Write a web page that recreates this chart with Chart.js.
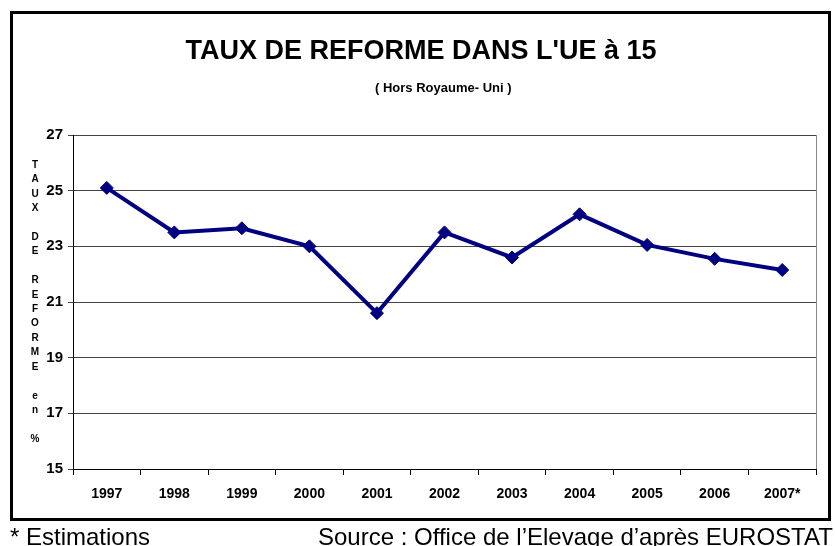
<!DOCTYPE html>
<html>
<head>
    <title>Taux de reforme UE 15</title>
    <script src="https://cdn.jsdelivr.net/npm/chart.js"></script>
    <style>
        body {
            margin: 0;
            background: white;
            font-family: 'Liberation Sans', Arial, sans-serif;
        }
        .page {
            position: relative;
            width: 835px;
            height: 546px;
            overflow: hidden;
        }
        .box {
            position: absolute;
            left: 10px;
            top: 11px;
            width: 815px;
            height: 504px;
            border: 3px solid black;
        }
        canvas {
            position: absolute;
            left: 0;
            top: 0;
        }
        .title {
            position: absolute;
            left: 0;
            width: 842px;
            top: 35px;
            text-align: center;
            font-weight: bold;
            font-size: 27px;
        }
        .subtitle {
            position: absolute;
            left: 375px;
            top: 80px;
            font-weight: bold;
            font-size: 13px;
            white-space: pre;
        }
        .ytitle {
            position: absolute;
            left: 29px;
            top: 158px;
            width: 12px;
            text-align: center;
            font-weight: bold;
            font-size: 10px;
            line-height: 14.4px;
        }
        .foot {
            position: absolute;
            top: 523px;
            font-size: 24px;
            white-space: pre;
        }
    </style>
</head>
<body>
<div class="page">
    <div class="box"></div>
    <canvas id="chart" width="835" height="546"></canvas>
    <div class="title">TAUX DE REFORME DANS L'UE à 15</div>
    <div class="subtitle">( Hors Royaume- Uni )</div>
    <div class="ytitle" id="ytitle"></div>
    <div class="foot" style="left:10px">* Estimations</div>
    <div class="foot" style="left:318px">Source : Office de l’Elevage d’après EUROSTAT</div>
</div>
<script>
    const years = ['1997', '1998', '1999', '2000', '2001', '2002', '2003', '2004', '2005', '2006', '2007*'];
    const taux = [25.1, 23.5, 23.65, 23.0, 20.6, 23.5, 22.6, 24.15, 23.05, 22.55, 22.15];
    const yMin = 15, yMax = 27, yStep = 2;

    // vertical axis title, one letter per line
    const yLetters = ['T', 'A', 'U', 'X', '', 'D', 'E', '', 'R', 'E', 'F', 'O', 'R', 'M', 'E', '', 'e', 'n', '', '%'];
    document.getElementById('ytitle').innerHTML = yLetters.map(l => l || '&nbsp;').join('<br>');

    const plotFrame = {
        id: 'plotFrame',
        afterDraw(chart) {
            const a = chart.chartArea, ctx = chart.ctx;
            ctx.save();
            ctx.strokeStyle = '#888';
            ctx.lineWidth = 1;
            ctx.beginPath();
            ctx.moveTo(a.right + 0.5, a.top);
            ctx.lineTo(a.right + 0.5, a.bottom);
            ctx.stroke();
            ctx.restore();
        }
    };

    new Chart(document.getElementById('chart'), {
        type: 'line',
        data: {
            labels: years,
            datasets: [{
                data: taux,
                borderColor: '#000080',
                backgroundColor: '#000080',
                borderWidth: 4,
                pointStyle: 'rectRot',
                pointRadius: 6.5,
                pointBorderWidth: 1,
                tension: 0
            }]
        },
        options: {
            responsive: false,
            animation: false,
            layout: { padding: { left: 0, top: 135, right: 19, bottom: 47 } },
            plugins: { legend: { display: false }, tooltip: { enabled: false } },
            scales: {
                x: {
                    offset: true,
                    afterFit(s) { s.height = 30; },
                    grid: { offset: true, drawOnChartArea: false, tickLength: 6, color: '#000' },
                    border: { color: '#000', width: 1 },
                    ticks: { color: '#000', font: { family: 'Liberation Sans', size: 14, weight: 'bold' }, padding: 11 }
                },
                y: {
                    min: yMin,
                    max: yMax,
                    afterFit(s) { s.width = 73; },
                    ticks: { stepSize: yStep, color: '#000', font: { family: 'Liberation Sans', size: 15, weight: 'bold' }, padding: 5 },
                    grid: { color: '#444', tickLength: 5 },
                    border: { color: '#000', width: 1 }
                }
            }
        },
        plugins: [plotFrame]
    });
</script>
</body>
</html>
